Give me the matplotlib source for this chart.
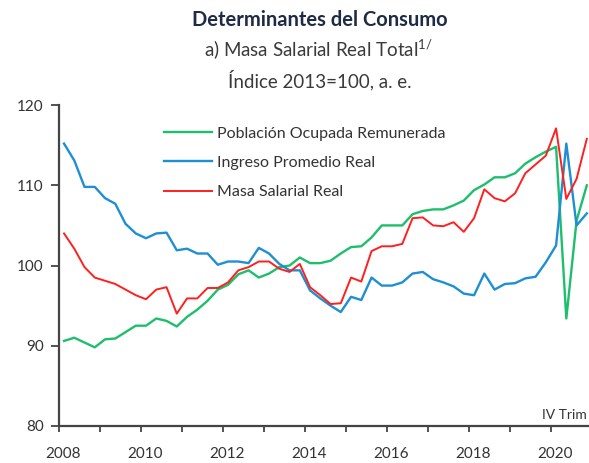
import numpy as np
from matplotlib import pyplot as plt
from matplotlib import rcParams

rcParams['font.family'] = 'Lato'
rcParams['mathtext.fontset'] = 'custom'
rcParams['mathtext.rm'] = 'Lato'
rcParams['font.size'] = 11

# quarterly, 2008 I - 2020 IV
start_year = 2008
poblacion = [90.6, 91.0, 90.4, 89.8, 90.8, 90.9, 91.7, 92.5, 92.5, 93.4,
             93.1, 92.4, 93.6, 94.5, 95.6, 97.0, 97.6, 98.9, 99.4, 98.5,
             99.0, 99.8, 100.0, 101.0, 100.3, 100.3, 100.6, 101.5, 102.3, 102.4,
             103.5, 105.0, 105.0, 105.0, 106.4, 106.8, 107.0, 107.0, 107.5, 108.1,
             109.4, 110.1, 111.0, 111.0, 111.5, 112.7, 113.5, 114.2, 114.8, 93.4,
             105.6, 110.0]
ingreso = [115.2, 113.1, 109.8, 109.8, 108.4, 107.7, 105.2, 104.0, 103.4, 104.0,
           104.1, 101.9, 102.1, 101.5, 101.5, 100.1, 100.5, 100.5, 100.3, 102.2,
           101.5, 100.2, 99.4, 99.4, 96.9, 95.9, 95.0, 94.2, 96.1, 95.7,
           98.5, 97.5, 97.5, 97.9, 99.0, 99.2, 98.3, 97.9, 97.4, 96.5,
           96.3, 99.0, 97.0, 97.7, 97.8, 98.4, 98.6, 100.4, 102.5, 115.2,
           105.0, 106.5]
masa = [104.0, 102.1, 99.8, 98.5, 98.1, 97.7, 97.0, 96.3, 95.8, 97.0,
        97.3, 94.0, 95.9, 95.9, 97.2, 97.2, 97.9, 99.4, 99.8, 100.5,
        100.5, 99.6, 99.2, 100.2, 97.3, 96.3, 95.2, 95.3, 98.5, 98.0,
        101.8, 102.4, 102.4, 102.7, 105.9, 106.0, 105.0, 104.9, 105.4, 104.2,
        105.9, 109.5, 108.4, 108.0, 109.0, 111.5, 112.6, 113.7, 117.1, 108.3,
        110.8, 115.8]

n = len(masa)
x = start_year + (np.arange(n) + 0.5) / 4

fig = plt.figure(figsize=(5.89, 4.63), dpi=100)
ax = fig.add_axes([0.100, 0.080, 0.905, 0.693])

ax.plot(x, poblacion, color='#1DBF6C', lw=1.7, label='Población Ocupada Remunerada')
ax.plot(x, ingreso, color='#1E8FD2', lw=1.7, label='Ingreso Promedio Real')
ax.plot(x, masa, color='#FF1F1F', lw=1.4, label='Masa Salarial Real')

ax.set_xlim(2008, 2021)
ax.set_ylim(80, 120)
ax.set_yticks([80, 90, 100, 110, 120])

ax.set_xticks(np.arange(2008, 2021), minor=True)
ax.set_xticks(np.arange(2008, 2021, 2) + 0.1)
ax.set_xticklabels([str(y) for y in range(2008, 2021, 2)])
ax.tick_params(axis='x', which='major', length=0, pad=15, labelsize=11, colors='#333333')
ax.tick_params(axis='x', which='minor', length=4, width=1.3, direction='out', color='#444444')
ax.tick_params(axis='y', length=6, width=1.3, direction='out', color='#444444',
               labelsize=11, labelcolor='#333333', pad=5)

for s in ['top', 'right']:
    ax.spines[s].set_visible(False)
for s in ['left', 'bottom']:
    ax.spines[s].set_color('#444444')
    ax.spines[s].set_linewidth(1.6)

ax.legend(loc='upper left', bbox_to_anchor=(0.17, 0.978), frameon=False,
          fontsize=11.5, handlelength=3.0, handletextpad=0.35, labelspacing=0.95,
          labelcolor='#333333')

fig.text(0.997, 0.104, 'IV Trim', ha='right', va='center',
         fontsize=10, color='#333333')

fig.text(0.543, 0.957, 'Determinantes del Consumo', ha='center', va='center',
         fontsize=14.5, fontweight='bold', color='#1F2A44')
fig.text(0.540, 0.892, r'a) Masa Salarial Real Total$^{1/}$', ha='center', va='center',
         fontsize=13.5, color='#3A3A3A')
fig.text(0.543, 0.827, 'Índice 2013=100, a. e.', ha='center', va='center',
         fontsize=13.5, color='#3A3A3A')

fig.savefig('out.png', dpi=100)
